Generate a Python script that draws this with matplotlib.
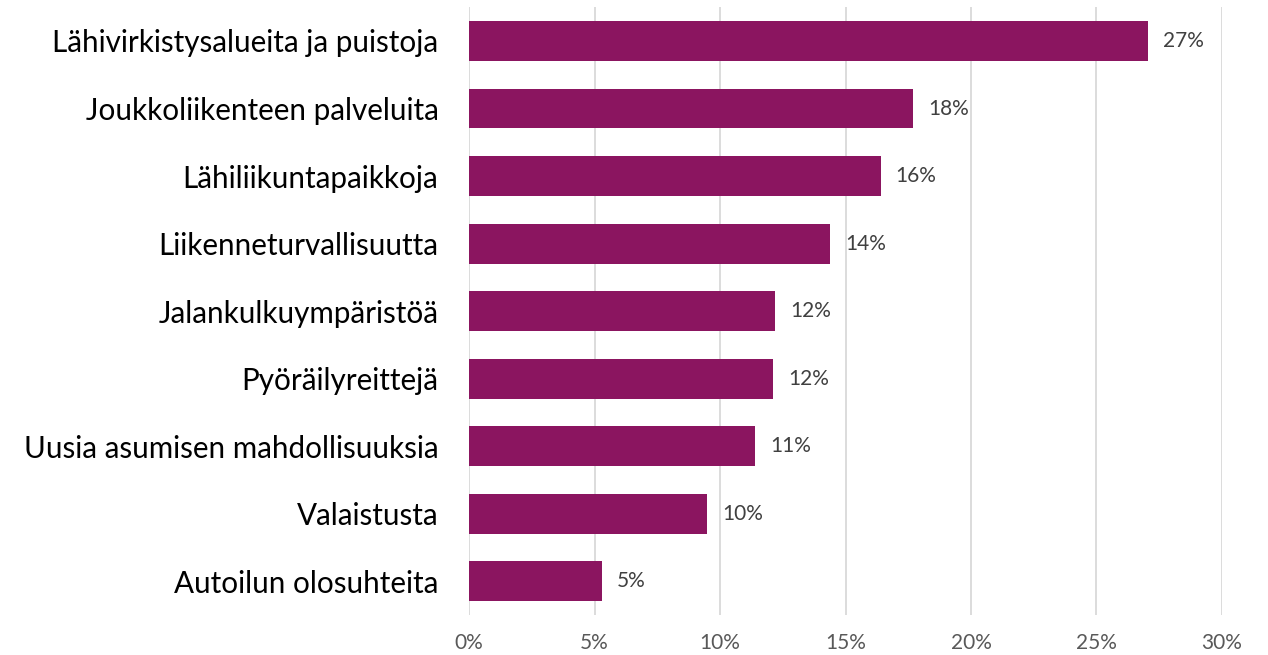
import matplotlib
matplotlib.use("Agg")
import matplotlib.pyplot as plt
import numpy as np

plt.rcParams['font.family'] = ['Lato', 'DejaVu Sans']

categories = ["Lähivirkistysalueita ja puistoja", "Joukkoliikenteen palveluita",
              "Lähiliikuntapaikkoja", "Liikenneturvallisuutta", "Jalankulkuympäristöä",
              "Pyöräilyreittejä", "Uusia asumisen mahdollisuuksia", "Valaistusta",
              "Autoilun olosuhteita"]
values = [27.05, 17.7, 16.4, 14.4, 12.2, 12.1, 11.4, 9.5, 5.3]
ticks = [0, 5, 10, 15, 20, 25, 30]

fig = plt.figure(figsize=(12.68, 6.55), dpi=100)
ax = fig.add_axes([0.3699, 0.061, 0.5938, 0.928])

y = np.arange(len(categories))
ax.barh(y, values, height=0.59, color='#8B1560', zorder=3)
for yi, v in zip(y, values):
    ax.text(v + 0.6, yi, f"{round(v):.0f}%", va='center', ha='left',
            fontsize=15, color='#404040')

ax.set_yticks(y)
ax.set_yticklabels(categories, fontsize=21.3, color='black')
ax.set_ylim(len(categories) - 0.5, -0.5)
ax.set_xlim(0, 30)
ax.set_xticks(ticks)
ax.set_xticklabels([f"{t}%" for t in ticks], fontsize=15, color='#595959')
ax.tick_params(length=0)
ax.tick_params(axis='y', pad=22)
ax.tick_params(axis='x', pad=13)
ax.grid(axis='x', color='#d9d9d9', linewidth=1.3, zorder=0)
for s in ax.spines.values():
    s.set_visible(False)

fig.savefig("out.png", dpi=100)
